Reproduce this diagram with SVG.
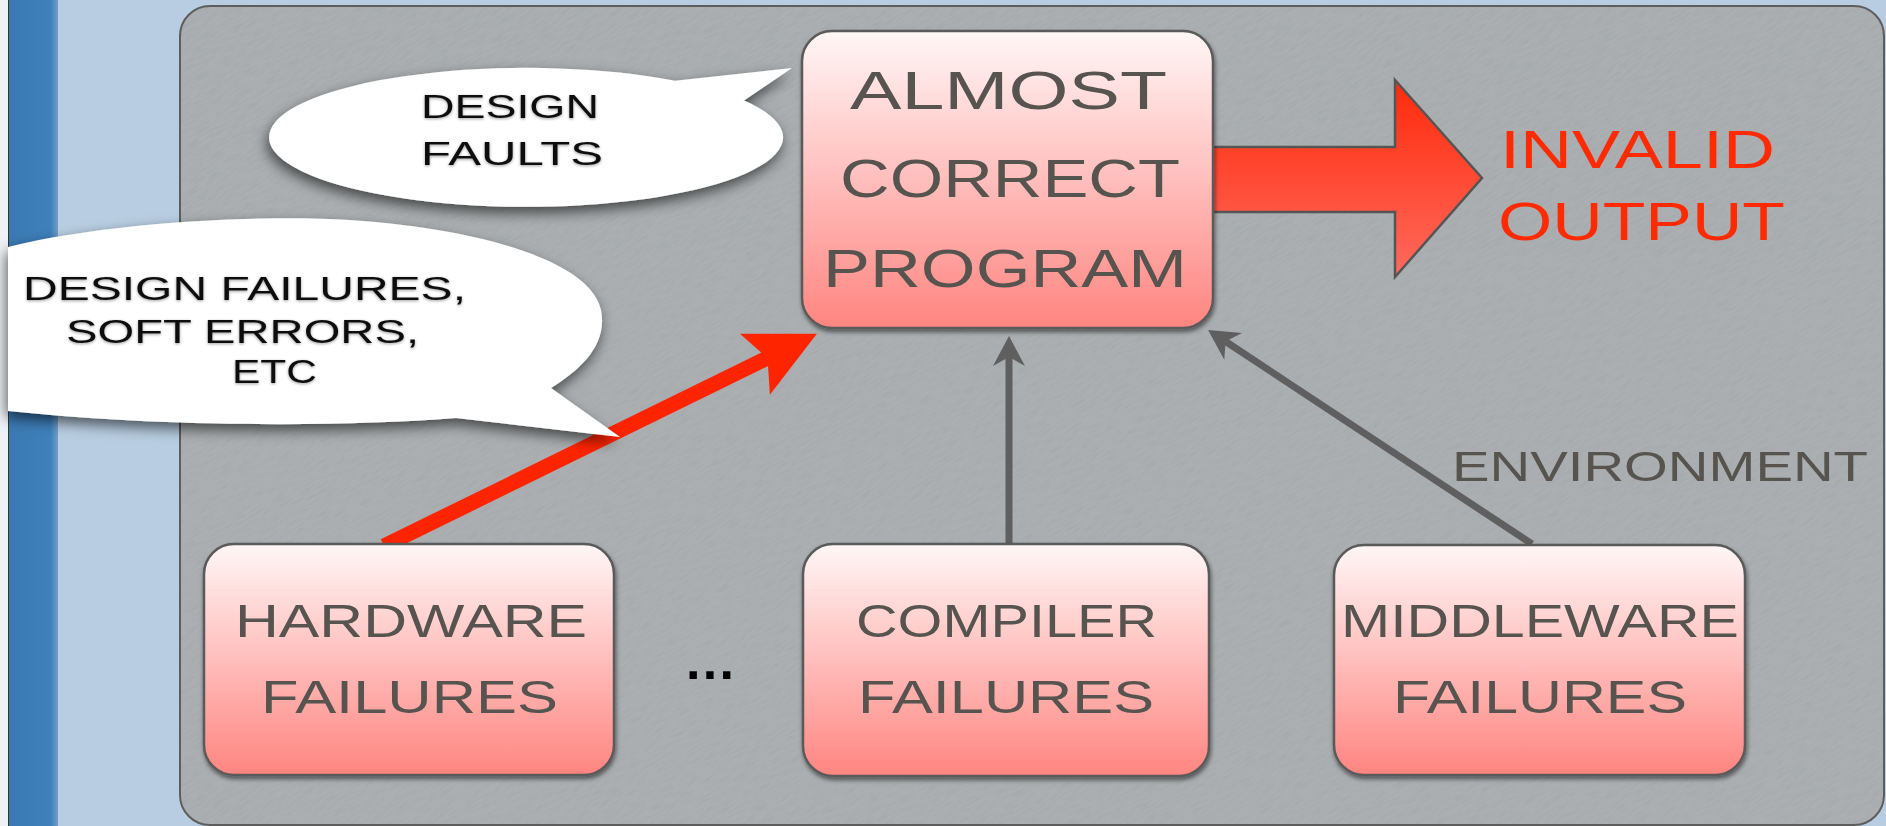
<svg xmlns="http://www.w3.org/2000/svg" width="1886" height="826" viewBox="0 0 1886 826">
<style>
  .box { fill: url(#boxFill); stroke: #5a5a5a; stroke-width: 2.5; filter: url(#boxShadow); }
  .boxText { font-family: "Liberation Sans", "DejaVu Sans", sans-serif; fill: #57534e; }
  .big { font-size: 53px; }
  .mid { font-size: 46px; }
  .bubble { fill: #ffffff; filter: url(#bubbleShadow); }
  .bubbleText { font-family: "Liberation Sans", "DejaVu Sans", sans-serif; fill: #111111; font-size: 33px; filter: url(#textGlow); }
  .gray { stroke: #5f5f5f; stroke-width: 7; fill: none; marker-end: url(#grayHead); }
  .red { stroke: #ff2400; stroke-width: 15; fill: none; marker-end: url(#redHead); }
  .redText { font-family: "Liberation Sans", "DejaVu Sans", sans-serif; fill: #ff2a00; font-size: 53px; }
</style>
<defs>
  <linearGradient id="boxFill" x1="0" y1="0" x2="0" y2="1">
    <stop offset="0" stop-color="#fff6f6"/>
    <stop offset="0.5" stop-color="#ffbebc"/>
    <stop offset="1" stop-color="#ff8580"/>
  </linearGradient>
  <linearGradient id="bigArrowFill" x1="0" y1="0" x2="0" y2="1">
    <stop offset="0" stop-color="#ff2a0a"/>
    <stop offset="1" stop-color="#ff6a5e"/>
  </linearGradient>
  <linearGradient id="stripFill" x1="0" y1="0" x2="1" y2="0">
    <stop offset="0" stop-color="#3a78b2"/>
    <stop offset="0.85" stop-color="#3f80bb"/>
    <stop offset="1" stop-color="#6f9fcb"/>
  </linearGradient>
  <filter id="paper" x="0" y="0" width="100%" height="100%">
    <feTurbulence type="fractalNoise" baseFrequency="0.07 0.45" numOctaves="3" seed="7"/>
    <feColorMatrix type="matrix" values="0 0 0 0 0.3  0 0 0 0 0.31  0 0 0 0 0.32  2.4 0 0 0 -1.0"/>
  </filter>
  <clipPath id="panelClip">
    <rect x="180" y="6" width="1704" height="819" rx="30"/>
  </clipPath>
  <filter id="boxShadow" x="-10%" y="-10%" width="125%" height="130%">
    <feDropShadow dx="1" dy="3" stdDeviation="2" flood-color="#000" flood-opacity="0.5"/>
  </filter>
  <filter id="bubbleShadow" x="-20%" y="-40%" width="140%" height="190%">
    <feDropShadow dx="-2" dy="6" stdDeviation="7" flood-color="#000" flood-opacity="0.6"/>
  </filter>
  <filter id="textGlow" x="-10%" y="-30%" width="120%" height="160%">
    <feDropShadow dx="0" dy="1" stdDeviation="1.5" flood-color="#000" flood-opacity="0.4"/>
  </filter>
  <marker id="grayHead" viewBox="-32 -18 34 36" markerWidth="34" markerHeight="36" refX="-21" refY="0" orient="auto" markerUnits="userSpaceOnUse">
    <path d="M0,0 L-30,-16 L-21,0 L-30,16 Z" fill="#5f5f5f"/>
  </marker>
  <marker id="redHead" viewBox="-72 -36 74 72" markerWidth="74" markerHeight="72" refX="-55" refY="0" orient="auto" markerUnits="userSpaceOnUse">
    <path d="M0,0 L-69,-34 L-55,0 L-69,34 Z" fill="#ff2400"/>
  </marker>
</defs>

<!-- background -->
<rect x="0" y="0" width="1886" height="826" fill="#b8cde1"/>
<rect x="0" y="0" width="8" height="826" fill="#eef2f6"/>
<rect x="8" y="0" width="50" height="826" fill="url(#stripFill)"/>
<line x1="8.5" y1="0" x2="8.5" y2="826" stroke="#333" stroke-width="1"/>

<!-- panel -->
<rect id="panel" x="180" y="6" width="1704" height="819" rx="30" fill="#abafb1"/>
<g clip-path="url(#panelClip)">
  <rect x="-300" y="-700" width="2600" height="2200" transform="rotate(-32 1032 415)" filter="url(#paper)" opacity="0.22"/>
</g>
<rect x="180" y="6" width="1704" height="819" rx="30" fill="none" stroke="#5d5d5d" stroke-width="2"/>

<!-- connectors -->
<g id="connectors">
  <line class="red" x1="384" y1="546" x2="767.5" y2="358"/>
  <line class="gray" x1="1009" y1="546" x2="1009" y2="357"/>
  <line class="gray" x1="1532" y1="544" x2="1225.6" y2="341.5"/>
  <path id="bigArrow" d="M1205,147 L1395,147 L1395,80 L1482,178 L1395,277 L1395,212 L1205,212 Z" fill="url(#bigArrowFill)" stroke="#555" stroke-width="2.5" stroke-linejoin="miter"/>
  <text class="boxText" x="1452" y="481" font-size="42" textLength="416" lengthAdjust="spacingAndGlyphs">ENVIRONMENT</text>
</g>

<!-- nodes -->
<g id="node-almost-correct-program">
  <rect class="box" x="802" y="31" width="411" height="297" rx="30"/>
  <text class="boxText big" x="850" y="109" textLength="317" lengthAdjust="spacingAndGlyphs">ALMOST</text>
  <text class="boxText big" x="840" y="197" textLength="340" lengthAdjust="spacingAndGlyphs">CORRECT</text>
  <text class="boxText big" x="823" y="287" textLength="364" lengthAdjust="spacingAndGlyphs">PROGRAM</text>
</g>

<g id="node-invalid-output">
  <text class="redText" x="1500" y="168" textLength="275" lengthAdjust="spacingAndGlyphs">INVALID</text>
  <text class="redText" x="1498" y="240" textLength="287" lengthAdjust="spacingAndGlyphs">OUTPUT</text>
</g>

<g id="node-hardware-failures">
  <rect class="box" x="204" y="544" width="410" height="231" rx="30"/>
  <text class="boxText mid" x="235" y="637" textLength="352" lengthAdjust="spacingAndGlyphs">HARDWARE</text>
  <text class="boxText mid" x="261" y="713" textLength="297" lengthAdjust="spacingAndGlyphs">FAILURES</text>
</g>

<g id="node-ellipsis">
  <text x="686" y="679" font-family="Liberation Sans, sans-serif" font-size="52" font-weight="bold" fill="#000" textLength="48" lengthAdjust="spacing">...</text>
</g>

<g id="node-compiler-failures">
  <rect class="box" x="803" y="544" width="406" height="232" rx="30"/>
  <text class="boxText mid" x="856" y="637" textLength="301" lengthAdjust="spacingAndGlyphs">COMPILER</text>
  <text class="boxText mid" x="858" y="713" textLength="296" lengthAdjust="spacingAndGlyphs">FAILURES</text>
</g>

<g id="node-middleware-failures">
  <rect class="box" x="1334" y="545" width="411" height="230" rx="30"/>
  <text class="boxText mid" x="1341" y="637" textLength="398" lengthAdjust="spacingAndGlyphs">MIDDLEWARE</text>
  <text class="boxText mid" x="1393" y="713" textLength="294" lengthAdjust="spacingAndGlyphs">FAILURES</text>
</g>

<g id="node-design-faults">
  <path class="bubble" d="M675,80.7 L792,68 L744,100.5 A257 69.5 0 1 1 675,80.7 Z"/>
  <text class="bubbleText" x="421" y="118" font-size="32" textLength="178" lengthAdjust="spacingAndGlyphs">DESIGN</text>
  <text class="bubbleText" x="421" y="165" font-size="32" textLength="182" lengthAdjust="spacingAndGlyphs">FAULTS</text>
</g>

<g id="node-design-failures">
  <path class="bubble" d="M8,247 C100,224 250,214 350,220 C470,228 590,258 601,310 C608,345 580,370 551,388 L620,437 L456,418 C330,428 150,426 8,411 Z"/>
  <text class="bubbleText" x="23" y="300" textLength="443" lengthAdjust="spacingAndGlyphs">DESIGN FAILURES,</text>
  <text class="bubbleText" x="66" y="343" textLength="353" lengthAdjust="spacingAndGlyphs">SOFT ERRORS,</text>
  <text class="bubbleText" x="232" y="383" textLength="85" lengthAdjust="spacingAndGlyphs">ETC</text>
</g>
</svg>
